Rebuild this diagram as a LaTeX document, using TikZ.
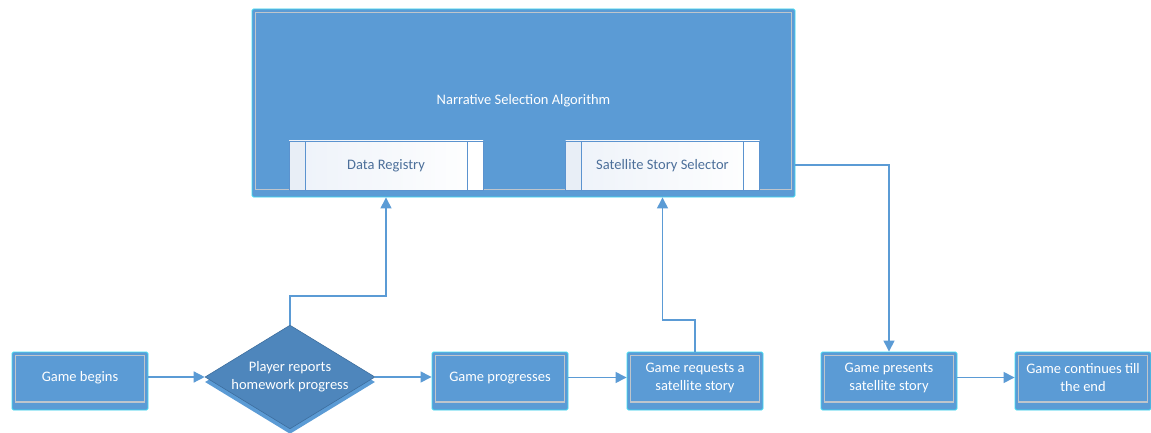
\documentclass[tikz,border=0pt]{standalone}
\usepackage{fontspec}
\setmainfont{Carlito}
\usetikzlibrary{arrows.meta,shapes.geometric}

\definecolor{boxblue}{HTML}{5B9BD5}
\definecolor{glow}{HTML}{3EDDF2}
\definecolor{rimgray}{HTML}{BFC5CC}
\definecolor{diablue}{HTML}{4E86BC}
\definecolor{diaedge}{HTML}{3D6E9E}
\definecolor{subedge}{HTML}{5B93CF}
\definecolor{subcell}{HTML}{E8EEF6}
\definecolor{subleft}{HTML}{EDF2F9}
\definecolor{subtext}{HTML}{4C6F9A}
\definecolor{wire}{HTML}{5B9BD5}

\tikzset{
  lbl/.style={font=\fontsize{14.5}{18}\selectfont, text=white, align=center},
  % process step: blue box with a light rim and a deeper bottom band
  procbox/.style={rectangle, rounded corners=1.5pt, fill=boxblue, draw=glow,
    line width=0.9pt, minimum width=136pt, minimum height=58pt, inner sep=0pt,
    path picture={\draw[rimgray, line width=1.3pt, sharp corners]
      ([shift={(3.5pt,8pt)}]path picture bounding box.south west) rectangle
      ([shift={(-3.5pt,-3.5pt)}]path picture bounding box.north east);},
    label={[lbl, yshift=3pt]center:#1}},
  bigbox/.style={rectangle, rounded corners=1.5pt, fill=boxblue, draw=glow,
    line width=0.9pt, minimum width=543pt, minimum height=188pt, inner sep=0pt,
    path picture={\draw[rimgray, line width=1.3pt, sharp corners]
      ([shift={(3.5pt,7.5pt)}]path picture bounding box.south west) rectangle
      ([shift={(-3.5pt,-3.5pt)}]path picture bounding box.north east);},
    label={[lbl, yshift=2pt]center:#1}},
  % predefined-process box with side cells
  subbox/.style={rectangle, draw=subedge, line width=0.9pt,
    minimum width=194pt, minimum height=49pt, inner sep=0pt,
    left color=subleft, right color=white, text=subtext,
    font=\fontsize{14.5}{18}\selectfont,
    path picture={
      \fill[subcell] (path picture bounding box.south west) rectangle
        ([xshift=16pt]path picture bounding box.north west);
      \fill[white] ([xshift=-16pt]path picture bounding box.south east) rectangle
        (path picture bounding box.north east);
      \draw[subedge, line width=0.9pt]
        ([xshift=16pt]path picture bounding box.south west) --
        ([xshift=16pt]path picture bounding box.north west);
      \draw[subedge, line width=0.9pt]
        ([xshift=-16pt]path picture bounding box.south east) --
        ([xshift=-16pt]path picture bounding box.north east);}},
  decision/.style={diamond, fill=diablue, draw=diaedge, line width=0.6pt,
    minimum width=170pt, minimum height=100pt, inner sep=0pt, aspect=1.6,
    lbl, preaction={fill=boxblue, transform canvas={yshift=-5pt}}},
  conn/.style={draw=wire, line width=1.4pt, -{Triangle[length=11pt,width=11pt]}}
}

\begin{document}
\begin{tikzpicture}[x=1pt, y=-1pt]
\useasboundingbox[fill=white] (0,0) rectangle (1151,433);

% selection algorithm and its parts
\node[bigbox={Narrative Selection Algorithm}] (nsa) at (523.5,103) {};
\node[subbox] (dr)  at (386,165.5) {Data Registry};
\node[subbox] (sss) at (662.5,165.5) {Satellite Story Selector};

% game flow
\node[procbox={Game begins}] (begin) at (80,381) {};
\node[decision] (dia) at (290,377) {Player reports\\homework progress};
\node[procbox={Game progresses}] (prog) at (500,381) {};
\node[procbox={Game requests a\\satellite story}] (req) at (695,381) {};
\node[procbox={Game presents\\satellite story}] (pres) at (889,381) {};
\node[procbox={Game continues till\\the end}] (cont) at (1083,381) {};

% bend levels of the elbow connectors
\coordinate (k1) at (0,296);
\coordinate (k2) at (0,320);
\coordinate (k3) at (0,165);

\draw[conn] (begin.east |- dia.west) -- (dia.west);
\draw[conn] (dia.east) -- (dia.east -| prog.west);
\draw[conn] ([yshift=3.5pt]prog.east) -- ([yshift=3.5pt]req.west);
\draw[conn] ([yshift=3.5pt]pres.east) -- ([yshift=3.5pt]cont.west);

\draw[conn] (dia.north) -- (dia.north |- k1) -| (dr.south |- nsa.south);
\draw[conn] (req.north) -- (req.north |- k2) -| (sss.south |- nsa.south);
\draw[conn] (nsa.east |- k3) -| (pres.north);
\end{tikzpicture}
\end{document}
